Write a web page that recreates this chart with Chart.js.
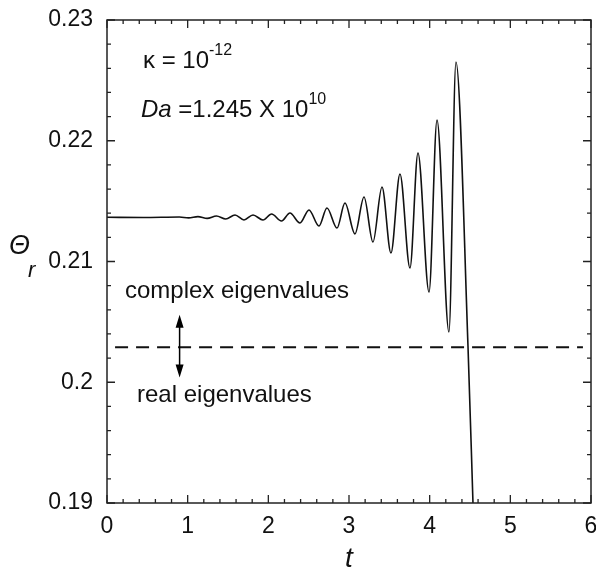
<!DOCTYPE html>
<html>
<head>
<meta charset="utf-8">
<script src="https://cdn.jsdelivr.net/npm/chart.js@4.4.1/dist/chart.umd.min.js"></script>
<style>
  html, body { margin: 0; padding: 0; background: #fff; }
  #wrap { width: 596px; height: 576px; position: relative; }
</style>
</head>
<body>
<div id="wrap"><canvas id="chart"></canvas></div>
<script>
// Datos (peaks y valles de la oscilacion)
const tValues = [0.00, 0.45, 0.897, 1.012, 1.127, 1.242, 1.357, 1.472, 1.587, 1.698, 1.810, 1.934,
  2.040, 2.163, 2.268, 2.392, 2.504, 2.628, 2.727, 2.851, 2.950, 3.074, 3.186, 3.297,
  3.409, 3.520, 3.632, 3.756, 3.855, 3.992, 4.091, 4.239, 4.326, 4.475, 4.537];
const thetaValues = [0.21366, 0.21365, 0.21369, 0.21361, 0.21372, 0.21357, 0.21377, 0.21352, 0.21385, 0.21344, 0.21385, 0.21344,
  0.21393, 0.21335, 0.21402, 0.21319, 0.21427, 0.21294, 0.21443, 0.21277, 0.21484, 0.21228, 0.21534, 0.21161,
  0.21617, 0.21070, 0.21725, 0.20946, 0.21899, 0.20747, 0.22172, 0.20416, 0.22652, 0.20300, 0.19000];

// limite entre autovalores complejos y reales
const boundaryT = [0.1, 5.9];
const boundaryTheta = [0.2029, 0.2029];

// flecha doble
const arrowT = 0.9;
const arrowTheta = [0.2056, 0.2004];

const xTicks = [0, 1, 2, 3, 4, 5, 6];
const yTicks = [0.19, 0.20, 0.21, 0.22, 0.23];
const xMinorStep = 0.2;
const yMinorStep = 0.002;

const FONT = "'Liberation Sans', Arial, sans-serif";

const curve = tValues.map((t, i) => ({ x: t, y: thetaValues[i] }));
const boundary = boundaryT.map((t, i) => ({ x: t, y: boundaryTheta[i] }));

// marco, ticks internos en los cuatro lados y anotaciones
const framePlugin = {
  id: 'frame',
  afterDraw(chart) {
    const { ctx, chartArea: a, scales } = chart;
    const xs = scales.x, ys = scales.y;
    ctx.save();
    ctx.strokeStyle = '#222';
    ctx.lineWidth = 1.5;
    ctx.strokeRect(a.left, a.top, a.right - a.left, a.bottom - a.top);

    ctx.lineWidth = 1.3;
    ctx.beginPath();
    const nx = Math.round((xs.max - xs.min) / xMinorStep);
    for (let i = 0; i <= nx; i++) {
      const v = xs.min + i * xMinorStep;
      const px = xs.getPixelForValue(v);
      const len = (i % 5 === 0) ? 8 : 4;
      ctx.moveTo(px, a.bottom); ctx.lineTo(px, a.bottom - len);
      ctx.moveTo(px, a.top); ctx.lineTo(px, a.top + len);
    }
    const ny = Math.round((ys.max - ys.min) / yMinorStep);
    for (let i = 0; i <= ny; i++) {
      const v = ys.min + i * yMinorStep;
      const py = ys.getPixelForValue(v);
      const len = (i % 5 === 0) ? 8 : 4;
      ctx.moveTo(a.left, py); ctx.lineTo(a.left + len, py);
      ctx.moveTo(a.right, py); ctx.lineTo(a.right - len, py);
    }
    ctx.stroke();

    // flecha doble
    const ax = xs.getPixelForValue(arrowT);
    const y1 = ys.getPixelForValue(arrowTheta[0]);
    const y2 = ys.getPixelForValue(arrowTheta[1]);
    ctx.strokeStyle = '#000';
    ctx.fillStyle = '#000';
    ctx.lineWidth = 1.5;
    ctx.beginPath();
    ctx.moveTo(ax, y1 + 6); ctx.lineTo(ax, y2 - 6);
    ctx.stroke();
    ctx.beginPath();
    ctx.moveTo(ax, y1); ctx.lineTo(ax - 4, y1 + 13); ctx.lineTo(ax + 4, y1 + 13); ctx.closePath();
    ctx.moveTo(ax, y2); ctx.lineTo(ax - 4, y2 - 13); ctx.lineTo(ax + 4, y2 - 13); ctx.closePath();
    ctx.fill();

    // textos
    ctx.fillStyle = '#111';
    ctx.textBaseline = 'alphabetic';
    ctx.textAlign = 'left';
    ctx.font = '24px ' + FONT;
    ctx.fillText('complex eigenvalues', xs.getPixelForValue(0.223), ys.getPixelForValue(0.20698));
    ctx.fillText('real eigenvalues', xs.getPixelForValue(0.372), ys.getPixelForValue(0.19836));

    let x0 = xs.getPixelForValue(0.446);
    let b0 = ys.getPixelForValue(0.22602);
    ctx.font = '24px ' + FONT;
    const k = '\u03BA = 10';
    ctx.fillText(k, x0, b0);
    let w = ctx.measureText(k).width;
    ctx.font = '16px ' + FONT;
    ctx.fillText('-12', x0 + w, b0 - 13);

    x0 = xs.getPixelForValue(0.421);
    b0 = ys.getPixelForValue(0.22197);
    ctx.font = 'italic 24px ' + FONT;
    ctx.fillText('Da', x0, b0);
    w = ctx.measureText('Da').width;
    ctx.font = '24px ' + FONT;
    const rest = ' =1.245 X 10';
    ctx.fillText(rest, x0 + w, b0);
    w += ctx.measureText(rest).width;
    ctx.font = '16px ' + FONT;
    ctx.fillText('10', x0 + w, b0 - 13);

    // titulo eje y
    ctx.font = 'italic 27px ' + FONT;
    ctx.fillText('\u0398', 9, 254);
    ctx.font = 'italic 22px ' + FONT;
    ctx.fillText('r', 28, 277);
    ctx.restore();
  }
};

new Chart(document.getElementById('chart'), {
  type: 'line',
  data: {
    datasets: [
      {
        data: curve,
        borderColor: '#111',
        borderWidth: 1.6,
        pointRadius: 0,
        cubicInterpolationMode: 'monotone',
        fill: false
      },
      {
        data: boundary,
        borderColor: '#111',
        borderWidth: 2.2,
        borderDash: [13, 8],
        pointRadius: 0,
        fill: false
      }
    ]
  },
  options: {
    responsive: true,
    maintainAspectRatio: false,
    animation: false,
    layout: { padding: { top: 20, right: 5, left: 0, bottom: 0 } },
    plugins: {
      legend: { display: false },
      tooltip: { enabled: false }
    },
    scales: {
      x: {
        type: 'linear',
        min: 0, max: 6,
        afterBuildTicks: (s) => { s.ticks = xTicks.map(v => ({ value: v })); },
        afterFit: (s) => { s.height = 73; s.paddingLeft = 0; s.paddingRight = 0; },
        grid: { display: false, drawTicks: false },
        border: { display: false },
        ticks: { padding: 10, color: '#111', font: { family: FONT, size: 23 } },
        title: {
          display: true, text: 't', color: '#111',
          padding: { top: 0, bottom: 0 },
          font: { family: FONT, size: 28, style: 'italic' }
        }
      },
      y: {
        min: 0.19, max: 0.23,
        afterBuildTicks: (s) => { s.ticks = yTicks.map(v => ({ value: v })); },
        afterFit: (s) => { s.width = 107; s.paddingTop = 0; s.paddingBottom = 0; },
        grid: { display: false, drawTicks: false },
        border: { display: false },
        ticks: {
          padding: 14, color: '#111', font: { family: FONT, size: 23 },
          callback: (v) => String(+v.toFixed(2))
        }
      }
    }
  },
  plugins: [framePlugin]
});
</script>
</body>
</html>
